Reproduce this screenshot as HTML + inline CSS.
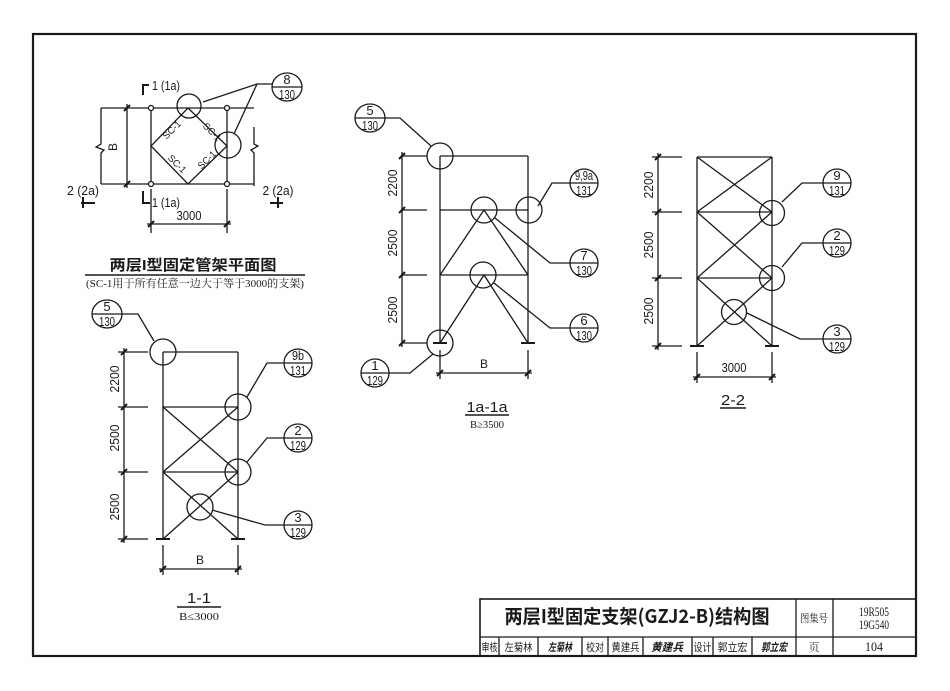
<!DOCTYPE html>
<html><head><meta charset="utf-8"><style>
html,body{margin:0;padding:0;background:#fff;}
svg{display:block;}
text{fill:#1a1a1a;font-family:"Liberation Sans Narrow","Liberation Sans","Noto Sans CJK SC",sans-serif;}
.cj{font-family:"Liberation Sans","Noto Sans CJK SC",sans-serif;}
.sf{font-family:"Liberation Serif","Noto Serif CJK SC",serif;}
</style></head><body>
<svg width="950" height="691" viewBox="0 0 950 691" xmlns="http://www.w3.org/2000/svg">
<rect x="0" y="0" width="950" height="691" fill="#fff"/>
<g stroke="#1a1a1a" fill="none" stroke-width="1.3">
<!-- frame -->
<rect x="33" y="34" width="883" height="622" stroke-width="2.2"/>
<!-- title block -->
<rect x="480" y="599" width="436" height="57" stroke-width="1.6"/>
<line x1="480" y1="637" x2="916" y2="637"/>
<line x1="796" y1="599" x2="796" y2="656"/>
<line x1="833" y1="599" x2="833" y2="656"/>
<line x1="499" y1="637" x2="499" y2="656"/>
<line x1="538" y1="637" x2="538" y2="656"/>
<line x1="582" y1="637" x2="582" y2="656"/>
<line x1="608" y1="637" x2="608" y2="656"/>
<line x1="643" y1="637" x2="643" y2="656"/>
<line x1="692" y1="637" x2="692" y2="656"/>
<line x1="713" y1="637" x2="713" y2="656"/>
<line x1="752" y1="637" x2="752" y2="656"/>

<!-- ===== PLAN VIEW ===== -->
<line x1="101" y1="108" x2="254" y2="108"/>
<line x1="101" y1="184" x2="254" y2="184"/>
<polyline points="101,108 101,144 96,147 104,150 101,153 101,184"/>
<polyline points="254,127 254,144 258,146 251,150 254,153 254,186"/>
<line x1="127" y1="104" x2="127" y2="188"/>
<line x1="151" y1="108" x2="151" y2="184"/>
<line x1="227" y1="108" x2="227" y2="184"/>
<line x1="151" y1="189" x2="151" y2="233"/>
<line x1="227" y1="189" x2="227" y2="233"/>
<line x1="147" y1="224" x2="231" y2="224"/>
<polygon points="188,108 227,146 188,184 151,146"/>
<circle cx="189" cy="106" r="12"/>
<circle cx="228" cy="145" r="13"/>
<g fill="#fff"><circle cx="151" cy="108" r="2.5"/><circle cx="227" cy="108" r="2.5"/><circle cx="151" cy="184" r="2.5"/><circle cx="227" cy="184" r="2.5"/></g>
<g stroke-width="2">
<line x1="124" y1="111" x2="130" y2="105"/><line x1="124" y1="187" x2="130" y2="181"/>
<line x1="148" y1="227" x2="154" y2="221"/><line x1="224" y1="227" x2="230" y2="221"/>
<polyline points="149,85 143,85 143,95"/>
<polyline points="143,191 143,203 150,203"/>
<line x1="81" y1="203" x2="95" y2="203"/><line x1="83" y1="197" x2="83" y2="208"/>
<line x1="270" y1="203" x2="283" y2="203"/><line x1="278" y1="197" x2="278" y2="208"/>
</g>
<!-- callout 8/130 -->
<polyline points="203,102 257,84 272,84"/>
<line x1="257" y1="84" x2="234" y2="134"/>
<ellipse cx="287" cy="87" rx="15" ry="14"/>
<line x1="272" y1="87" x2="302" y2="87"/>
<line x1="85" y1="275" x2="305" y2="275" stroke-width="1.6"/>

<!-- ===== 1a-1a ===== -->
<line x1="402" y1="152" x2="402" y2="347"/>
<line x1="402" y1="156" x2="427" y2="156"/>
<line x1="402" y1="210" x2="427" y2="210"/>
<line x1="402" y1="275" x2="427" y2="275"/>
<line x1="402" y1="343" x2="427" y2="343"/>
<line x1="440" y1="156" x2="440" y2="343"/>
<line x1="528" y1="156" x2="528" y2="343"/>
<line x1="440" y1="156" x2="528" y2="156"/>
<line x1="440" y1="210" x2="528" y2="210"/>
<line x1="440" y1="275" x2="528" y2="275"/>
<polyline points="440,275 484,210 528,275"/>
<polyline points="440,343 484,275 528,343"/>
<circle cx="440" cy="156" r="13"/>
<circle cx="484" cy="210" r="13"/>
<circle cx="529" cy="210" r="13"/>
<circle cx="483" cy="275" r="13"/>
<circle cx="440" cy="343" r="13"/>
<line x1="440" y1="350" x2="440" y2="379"/>
<line x1="528" y1="350" x2="528" y2="379"/>
<line x1="436" y1="373" x2="532" y2="373"/>
<g stroke-width="2">
<line x1="399" y1="159" x2="405" y2="153"/><line x1="399" y1="213" x2="405" y2="207"/>
<line x1="399" y1="278" x2="405" y2="272"/><line x1="399" y1="346" x2="405" y2="340"/>
<line x1="437" y1="376" x2="443" y2="370"/><line x1="525" y1="376" x2="531" y2="370"/>
<line x1="433" y1="343" x2="447" y2="343"/><line x1="521" y1="343" x2="535" y2="343"/>
</g>
<polyline points="384,118 400,118 431,146"/>
<polyline points="570,183 552,183 538,206"/>
<polyline points="570,263 550,263 495,218"/>
<polyline points="570,328 550,328 494,283"/>
<polyline points="389,373 410,373 433,354"/>
<ellipse cx="370" cy="118" rx="15" ry="14"/><line x1="355" y1="118" x2="385" y2="118"/>
<ellipse cx="584" cy="183" rx="14" ry="14"/><line x1="570" y1="183" x2="598" y2="183"/>
<ellipse cx="584" cy="263" rx="14" ry="14"/><line x1="570" y1="263" x2="598" y2="263"/>
<ellipse cx="584" cy="328" rx="14" ry="14"/><line x1="570" y1="328" x2="598" y2="328"/>
<ellipse cx="375" cy="373" rx="14" ry="14"/><line x1="361" y1="373" x2="389" y2="373"/>
<line x1="465" y1="415" x2="509" y2="415" stroke-width="1.6"/>

<!-- ===== 2-2 ===== -->
<line x1="658" y1="153" x2="658" y2="350"/>
<line x1="652" y1="157" x2="682" y2="157"/>
<line x1="652" y1="212" x2="682" y2="212"/>
<line x1="652" y1="278" x2="682" y2="278"/>
<line x1="652" y1="346" x2="682" y2="346"/>
<line x1="697" y1="157" x2="697" y2="346"/>
<line x1="772" y1="157" x2="772" y2="346"/>
<line x1="697" y1="157" x2="772" y2="157"/>
<line x1="697" y1="212" x2="772" y2="212"/>
<line x1="697" y1="278" x2="772" y2="278"/>
<line x1="697" y1="157" x2="772" y2="212"/><line x1="772" y1="157" x2="697" y2="212"/>
<line x1="697" y1="212" x2="772" y2="278"/><line x1="772" y1="212" x2="697" y2="278"/>
<line x1="697" y1="278" x2="772" y2="346"/><line x1="772" y1="278" x2="697" y2="346"/>
<circle cx="772" cy="213" r="12.5"/>
<circle cx="772" cy="278" r="12.5"/>
<circle cx="734" cy="312" r="12.5"/>
<line x1="697" y1="352" x2="697" y2="383"/>
<line x1="772" y1="352" x2="772" y2="383"/>
<line x1="693" y1="377" x2="776" y2="377"/>
<g stroke-width="2">
<line x1="655" y1="160" x2="661" y2="154"/><line x1="655" y1="215" x2="661" y2="209"/>
<line x1="655" y1="281" x2="661" y2="275"/><line x1="655" y1="349" x2="661" y2="343"/>
<line x1="694" y1="380" x2="700" y2="374"/><line x1="769" y1="380" x2="775" y2="374"/>
<line x1="690" y1="346" x2="704" y2="346"/><line x1="765" y1="346" x2="779" y2="346"/>
</g>
<polyline points="823,183 802,183 782,202"/>
<polyline points="823,243 802,243 782,267"/>
<polyline points="823,339 800,339 747,313"/>
<ellipse cx="837" cy="183" rx="14" ry="14"/><line x1="823" y1="183" x2="851" y2="183"/>
<ellipse cx="837" cy="243" rx="14" ry="14"/><line x1="823" y1="243" x2="851" y2="243"/>
<ellipse cx="837" cy="339" rx="14" ry="14"/><line x1="823" y1="339" x2="851" y2="339"/>
<line x1="720" y1="408" x2="746" y2="408" stroke-width="1.6"/>

<!-- ===== 1-1 ===== -->
<line x1="124" y1="348" x2="124" y2="543"/>
<line x1="118" y1="352" x2="148" y2="352"/>
<line x1="118" y1="407" x2="148" y2="407"/>
<line x1="118" y1="472" x2="148" y2="472"/>
<line x1="118" y1="539" x2="148" y2="539"/>
<line x1="163" y1="352" x2="163" y2="539"/>
<line x1="238" y1="352" x2="238" y2="539"/>
<line x1="163" y1="352" x2="238" y2="352"/>
<line x1="163" y1="407" x2="238" y2="407"/>
<line x1="163" y1="472" x2="238" y2="472"/>
<line x1="163" y1="407" x2="238" y2="472"/><line x1="238" y1="407" x2="163" y2="472"/>
<line x1="163" y1="472" x2="238" y2="539"/><line x1="238" y1="472" x2="163" y2="539"/>
<circle cx="163" cy="352" r="13"/>
<circle cx="238" cy="407" r="13"/>
<circle cx="238" cy="472" r="13"/>
<circle cx="200" cy="507" r="13"/>
<line x1="163" y1="545" x2="163" y2="575"/>
<line x1="238" y1="545" x2="238" y2="575"/>
<line x1="159" y1="569" x2="242" y2="569"/>
<g stroke-width="2">
<line x1="121" y1="355" x2="127" y2="349"/><line x1="121" y1="410" x2="127" y2="404"/>
<line x1="121" y1="475" x2="127" y2="469"/><line x1="121" y1="542" x2="127" y2="536"/>
<line x1="160" y1="572" x2="166" y2="566"/><line x1="235" y1="572" x2="241" y2="566"/>
<line x1="156" y1="539" x2="170" y2="539"/><line x1="231" y1="539" x2="245" y2="539"/>
</g>
<polyline points="121,314 138,314 154,341"/>
<polyline points="284,363 267,363 247,397"/>
<polyline points="284,438 267,438 247,462"/>
<polyline points="284,525 265,525 212,510"/>
<ellipse cx="107" cy="314" rx="15" ry="14"/><line x1="92" y1="314" x2="122" y2="314"/>
<ellipse cx="298" cy="363" rx="14" ry="14"/><line x1="284" y1="363" x2="312" y2="363"/>
<ellipse cx="298" cy="438" rx="14" ry="14"/><line x1="284" y1="438" x2="312" y2="438"/>
<ellipse cx="298" cy="525" rx="14" ry="14"/><line x1="284" y1="525" x2="312" y2="525"/>
<line x1="177" y1="607" x2="221" y2="607" stroke-width="1.6"/>
</g>

<!-- ===== TEXT ===== -->
<g font-size="13" text-anchor="middle">
<!-- plan -->
<text x="166" y="90" textLength="28" lengthAdjust="spacingAndGlyphs">1 (1a)</text>
<text x="166" y="207" textLength="28" lengthAdjust="spacingAndGlyphs">1 (1a)</text>
<text x="83" y="195" textLength="32" lengthAdjust="spacingAndGlyphs">2 (2a)</text>
<text x="278" y="195" textLength="31" lengthAdjust="spacingAndGlyphs">2 (2a)</text>
<text transform="translate(117,147) rotate(-90)" font-size="12">B</text>
<text x="189" y="220" textLength="25" lengthAdjust="spacingAndGlyphs">3000</text>
<g font-size="9.5">
<text transform="translate(172,130) rotate(-45)" y="3">SC-1</text>
<text transform="translate(212,132) rotate(45)" y="3">SC-1</text>
<text transform="translate(177,164) rotate(45)" y="3">SC-1</text>
<text transform="translate(207,160) rotate(-45)" y="3">SC-1</text>
</g>
<text x="287" y="84">8</text><text x="287" y="99" textLength="16" lengthAdjust="spacingAndGlyphs">130</text>
<text x="193" y="270" font-size="15" font-weight="bold" class="cj" textLength="167" lengthAdjust="spacingAndGlyphs">两层I型固定管架平面图</text>
<text x="195" y="287" font-size="11" class="sf" textLength="218" lengthAdjust="spacingAndGlyphs">(SC-1用于所有任意一边大于等于3000的支架)</text>

<!-- 1a-1a -->
<text transform="translate(397,183) rotate(-90)" textLength="27" lengthAdjust="spacingAndGlyphs">2200</text>
<text transform="translate(397,243) rotate(-90)" textLength="27" lengthAdjust="spacingAndGlyphs">2500</text>
<text transform="translate(397,310) rotate(-90)" textLength="27" lengthAdjust="spacingAndGlyphs">2500</text>
<text x="484" y="368" font-size="12">B</text>
<text x="370" y="115">5</text><text x="370" y="130" textLength="16" lengthAdjust="spacingAndGlyphs">130</text>
<text x="584" y="180" textLength="18" lengthAdjust="spacingAndGlyphs">9,9a</text><text x="584" y="195" textLength="16" lengthAdjust="spacingAndGlyphs">131</text>
<text x="584" y="260">7</text><text x="584" y="275" textLength="16" lengthAdjust="spacingAndGlyphs">130</text>
<text x="584" y="325">6</text><text x="584" y="340" textLength="16" lengthAdjust="spacingAndGlyphs">130</text>
<text x="375" y="370">1</text><text x="375" y="385" textLength="16" lengthAdjust="spacingAndGlyphs">129</text>
<text x="487" y="412" font-size="15" class="cj" textLength="41" lengthAdjust="spacingAndGlyphs">1a-1a</text>
<text x="487" y="428" font-size="11" class="sf" textLength="34" lengthAdjust="spacingAndGlyphs">B≥3500</text>

<!-- 2-2 -->
<text transform="translate(653,185) rotate(-90)" textLength="27" lengthAdjust="spacingAndGlyphs">2200</text>
<text transform="translate(653,245) rotate(-90)" textLength="27" lengthAdjust="spacingAndGlyphs">2500</text>
<text transform="translate(653,311) rotate(-90)" textLength="27" lengthAdjust="spacingAndGlyphs">2500</text>
<text x="734" y="372" textLength="25" lengthAdjust="spacingAndGlyphs">3000</text>
<text x="837" y="180">9</text><text x="837" y="195" textLength="16" lengthAdjust="spacingAndGlyphs">131</text>
<text x="837" y="240">2</text><text x="837" y="255" textLength="16" lengthAdjust="spacingAndGlyphs">129</text>
<text x="837" y="336">3</text><text x="837" y="351" textLength="16" lengthAdjust="spacingAndGlyphs">129</text>
<text x="733" y="405" font-size="15" class="cj" textLength="24" lengthAdjust="spacingAndGlyphs">2-2</text>

<!-- 1-1 -->
<text transform="translate(119,379) rotate(-90)" textLength="27" lengthAdjust="spacingAndGlyphs">2200</text>
<text transform="translate(119,438) rotate(-90)" textLength="27" lengthAdjust="spacingAndGlyphs">2500</text>
<text transform="translate(119,507) rotate(-90)" textLength="27" lengthAdjust="spacingAndGlyphs">2500</text>
<text x="200" y="564" font-size="12">B</text>
<text x="107" y="311">5</text><text x="107" y="326" textLength="16" lengthAdjust="spacingAndGlyphs">130</text>
<text x="298" y="360" textLength="12" lengthAdjust="spacingAndGlyphs">9b</text><text x="298" y="375" textLength="16" lengthAdjust="spacingAndGlyphs">131</text>
<text x="298" y="435">2</text><text x="298" y="450" textLength="16" lengthAdjust="spacingAndGlyphs">129</text>
<text x="298" y="522">3</text><text x="298" y="537" textLength="16" lengthAdjust="spacingAndGlyphs">129</text>
<text x="199" y="603" font-size="15" class="cj" textLength="24" lengthAdjust="spacingAndGlyphs">1-1</text>
<text x="199" y="620" font-size="11" class="sf" textLength="40" lengthAdjust="spacingAndGlyphs">B≤3000</text>

<!-- title block -->
<text x="637" y="623" font-size="19" font-weight="bold" textLength="265" lengthAdjust="spacingAndGlyphs" style="font-family:'Noto Sans CJK SC','Liberation Sans',sans-serif">两层I型固定支架(GZJ2-B)结构图</text>
<text x="814" y="622" font-size="11" class="sf" textLength="28" lengthAdjust="spacingAndGlyphs">图集号</text>
<text x="874" y="616" font-size="13" class="sf" textLength="30" lengthAdjust="spacingAndGlyphs">19R505</text>
<text x="874" y="629" font-size="13" class="sf" textLength="30" lengthAdjust="spacingAndGlyphs">19G540</text>
<text x="874" y="651" font-size="13" class="sf" textLength="18" lengthAdjust="spacingAndGlyphs">104</text>
<text x="814" y="651" font-size="11" class="sf">页</text>
<g font-size="11" class="sf">
<text x="489.5" y="651" textLength="16" lengthAdjust="spacingAndGlyphs">审核</text>
<text x="518.5" y="651" textLength="28" lengthAdjust="spacingAndGlyphs">左菊林</text>
<text x="595" y="651" textLength="18" lengthAdjust="spacingAndGlyphs">校对</text>
<text x="625.5" y="651" textLength="28" lengthAdjust="spacingAndGlyphs">黄建兵</text>
<text x="702.5" y="651" textLength="18" lengthAdjust="spacingAndGlyphs">设计</text>
<text x="732.5" y="651" textLength="30" lengthAdjust="spacingAndGlyphs">郭立宏</text>
</g>
<g font-size="11" font-weight="bold" font-style="italic" class="cj">
<text x="560" y="651" textLength="24" lengthAdjust="spacingAndGlyphs">左菊林</text>
<text x="667" y="651" textLength="32" lengthAdjust="spacingAndGlyphs">黄建兵</text>
<text x="774" y="651" textLength="26" lengthAdjust="spacingAndGlyphs">郭立宏</text>
</g>
</g>
</svg>
</body></html>
